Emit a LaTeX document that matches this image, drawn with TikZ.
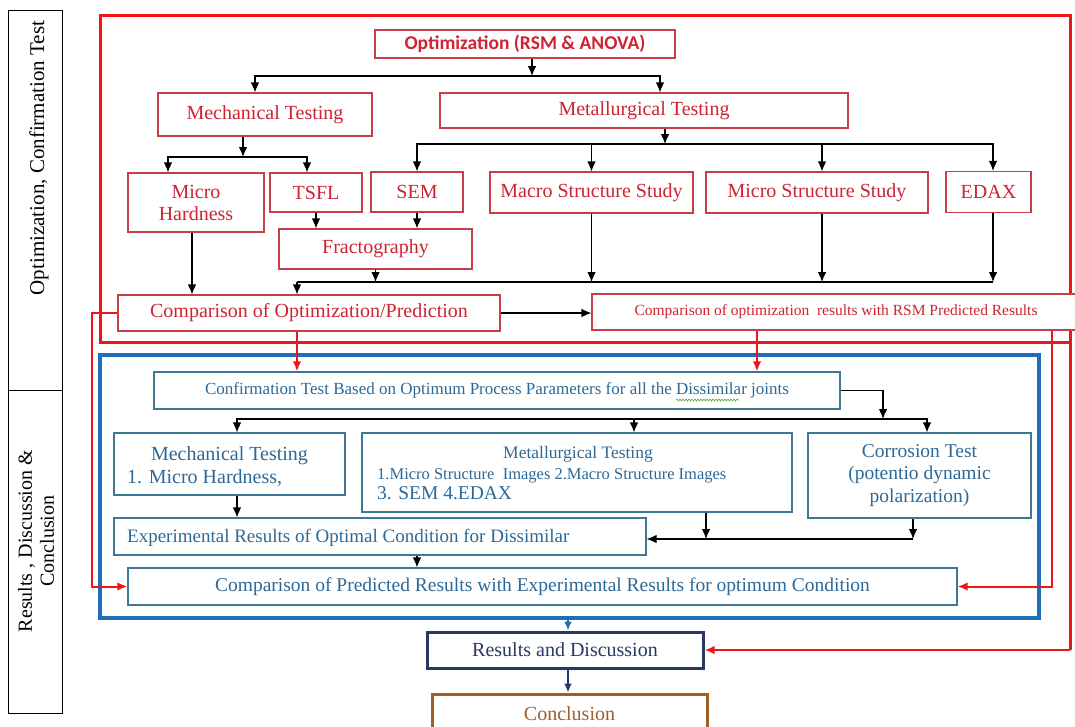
\documentclass[tikz,border=0pt]{standalone}
\usepackage{fontspec}
\setmainfont{Liberation Serif}
\newfontfamily\calibrifont{Carlito}
\usetikzlibrary{arrows.meta,calc,decorations.pathmorphing}

\definecolor{txtred}{RGB}{205,35,50}
\definecolor{boxred}{RGB}{200,60,70}
\definecolor{frred}{RGB}{240,20,25}
\definecolor{txtblue}{RGB}{45,105,150}
\definecolor{boxblue}{RGB}{60,120,150}
\definecolor{frblue}{RGB}{30,110,185}
\definecolor{navy}{RGB}{40,55,100}
\definecolor{brownc}{RGB}{160,95,40}
\definecolor{wavegreen}{RGB}{90,170,60}

\tikzset{
  rbox/.style={draw=boxred, line width=1.1pt, fill=white, text=txtred, inner sep=0pt,
    align=center, font=\fontsize{20}{22}\selectfont},
  bbox/.style={draw=boxblue, line width=1.1pt, fill=white, text=txtblue, inner sep=0pt,
    align=center, font=\fontsize{19.5}{22.5}\selectfont},
  btext/.style={text=txtblue, inner sep=0pt},
  stagelabel/.style={rotate=90, inner sep=0pt},
  arr/.style={line width=1.1pt, -{Latex[length=10pt,width=8.5pt]}},
  busline/.style={line width=1.1pt},
  rarr/.style={draw=frred, line width=2pt, -{Latex[length=10pt,width=8.5pt]}},
  rframe/.style={draw=frred, line width=3pt, line join=miter},
  bframe/.style={draw=frblue, line width=3.5pt},
  barr/.style={draw=frblue, line width=2pt, -{Latex[length=9pt,width=8pt]}},
  narr/.style={draw=navy, line width=2pt, -{Latex[length=9pt,width=8pt]}},
  spellwave/.style={draw=wavegreen, line width=0.6pt, decorate,
    decoration={snake, amplitude=1pt, segment length=3pt}},
}

\begin{document}
\begin{tikzpicture}[x=1pt,y=-1pt]
\useasboundingbox (0,0) rectangle (1075,726);
\fill[white] (0,0) rectangle (1075,726);

% stage column
\draw[line width=1pt] (8,10) rectangle (62,713);
\draw[line width=1pt] (8,390) -- (62,390);
\node[stagelabel, font=\fontsize{21}{23}\selectfont] (stage1) at (39,158) {Optimization, Confirmation Test};
\node[stagelabel, align=center, font=\fontsize{20}{22}\selectfont] (stage2) at (36,541) {Results , Discussion \&\\Conclusion};

% phase frames
\coordinate (fr) at (1070,650);
\draw[rframe] (1070,342) -- (100,342) -- (100,15) -- (1070,15) -- (fr);
\draw[bframe] (100,355) rectangle (1039,618);

% optimization phase
\node[rbox, font=\calibrifont\bfseries\fontsize{19.5}{22}\selectfont, minimum width=300pt, minimum height=28pt] (opt) at (525,44) {Optimization (RSM \& ANOVA)};
\node[rbox, minimum width=214pt, minimum height=43pt] (mech) at (265,114.5) {Mechanical Testing};
\node[rbox, minimum width=408pt, minimum height=35pt] (met) at (644,110.5) {Metallurgical Testing};
\node[rbox, minimum width=136pt, minimum height=59pt] (mh) at (196,202.5) {Micro\\Hardness};
\node[rbox, minimum width=92pt, minimum height=39pt] (tsfl) at (316,192.5) {TSFL};
\node[rbox, minimum width=92pt, minimum height=40pt] (sem) at (417,192) {SEM};
\node[rbox, minimum width=203pt, minimum height=41pt] (macro) at (591.5,192.5) {Macro Structure Study};
\node[rbox, minimum width=222pt, minimum height=41pt] (micro) at (817,192.5) {Micro Structure Study};
\node[rbox, minimum width=85pt, minimum height=41pt] (edax) at (988.5,192) {EDAX};
\node[rbox, minimum width=193pt, minimum height=40pt] (frac) at (375.5,249) {Fractography};
\node[rbox, minimum width=382pt, minimum height=36pt] (cmp1) at (309,313) {Comparison of Optimization/Prediction};
\node[rbox, font=\fontsize{15.5}{18}\selectfont, minimum width=488pt, minimum height=36pt] (cmp2) at (836,312) {Comparison of optimization\ \ results with RSM Predicted Results};

% confirmation phase
\node[bbox, font=\fontsize{17}{20}\selectfont, minimum width=686pt, minimum height=37pt] (conf) at (497,390.5)
  {Confirmation Test Based on Optimum Process Parameters for all the Dissimilar joints};
\draw[spellwave] (676,400) -- (739,400);
\node[bbox, minimum width=231pt, minimum height=62pt] (mech2) at (229.5,464) {};
\node[btext, anchor=base, font=\fontsize{20}{22}\selectfont] (mech2a) at (229.5,460) {Mechanical Testing};
\node[btext, anchor=base west, font=\fontsize{20}{22}\selectfont] (mech2b) at (127,483) {1. Micro Hardness,};
\node[bbox, minimum width=430pt, minimum height=79pt] (met2) at (577,472.5) {};
\node[btext, anchor=base, font=\fontsize{17.5}{20}\selectfont] (met2a) at (578,458) {Metallurgical Testing};
\node[btext, anchor=base west, font=\fontsize{16.5}{20}\selectfont] (met2b) at (377,479) {1.Micro Structure\ \ Images 2.Macro Structure Images};
\node[btext, anchor=base west, font=\fontsize{19.5}{22}\selectfont] (met2c) at (377,499) {3. SEM 4.EDAX};
\node[bbox, minimum width=223pt, minimum height=85pt] (corr) at (919.5,475.5) {Corrosion Test\\(potentio dynamic\\polarization)};
\node[bbox, minimum width=532pt, minimum height=37pt] (exp) at (380,536.5) {};
\node[btext, anchor=base west, font=\fontsize{19}{22}\selectfont] (expt) at (127,542) {Experimental Results of Optimal Condition for Dissimilar};
\node[bbox, minimum width=829pt, minimum height=37pt] (cmp3) at (542.5,586.5) {Comparison of Predicted Results with Experimental Results for optimum Condition};

% results and conclusion
\node[draw=navy, line width=3pt, fill=white, text=navy, inner sep=0pt, font=\fontsize{20}{22}\selectfont,
  minimum width=276pt, minimum height=36pt] (res) at (565,650) {Results and Discussion};
\node[draw=brownc, line width=3pt, fill=white, text=brownc, inner sep=0pt, font=\fontsize{20}{22}\selectfont,
  minimum width=275pt, minimum height=40pt] (conc) at (569.5,714) {Conclusion};

% optimization to testing branches
\coordinate (j1) at (532,76);
\draw[arr] ([xshift=7pt]opt.south) -- (j1);
\draw[arr] (j1) -| ([xshift=-10pt]mech.north);
\draw[arr] (j1) -| ([xshift=16pt]met.north);

% mechanical branches
\coordinate (j2) at (243,157);
\draw[arr] ([xshift=-22pt]mech.south) -- (j2);
\draw[arr] (j2) -| ([xshift=-28pt]mh.north);
\draw[arr] (j2) -| ([xshift=-9pt]tsfl.north);

% metallurgical branches
\coordinate (j3) at (665,144);
\draw[arr] ([xshift=21pt]met.south) -- (j3);
\draw[arr] (j3) -| (sem.north);
\draw[arr] (j3) -| ([xshift=4.5pt]edax.north);
\draw[arr] (macro.north |- j3) -- (macro.north);
\draw[arr] ([xshift=5pt]micro.north |- j3) -- ([xshift=5pt]micro.north);

% fractography inputs
\draw[arr] (tsfl.south) -- (tsfl.south |- frac.north);
\draw[arr] (sem.south) -- (sem.south |- frac.north);

% collecting line into the comparison
\coordinate (j4) at (297,282);
\draw[busline] (j4) -- ([xshift=4.5pt]edax.south |- j4);
\draw[arr] (frac.south) -- (frac.south |- j4);
\draw[arr] (macro.south) -- (macro.south |- j4);
\draw[arr] ([xshift=5pt]micro.south) -- ([xshift=5pt]micro.south |- j4);
\draw[arr] ([xshift=4.5pt]edax.south) -- ([xshift=4.5pt]edax.south |- j4);
\draw[arr] (j4) -- (j4 |- cmp1.north);
\draw[arr] ([xshift=-4pt]mh.south) -- ([xshift=-4pt]mh.south |- cmp1.north);
\draw[arr] (cmp1.east) -- (cmp1.east -| cmp2.west);

% red feeds into the confirmation phase
\draw[rarr] (cmp1.south -| j4) -- (j4 |- conf.north);
\draw[rarr] ([xshift=-79pt]cmp2.south) -- ([xshift=-79pt]cmp2.south |- conf.north);
\draw[rarr] ([xshift=216pt]cmp2.south) |- (cmp3.east);
\coordinate (l1) at (92,313);
\draw[rarr] (cmp1.west) -- (l1) |- (cmp3.west);
\draw[rarr, line width=2.5pt] (fr) -- (res.east);

% confirmation branches
\coordinate (k1) at (883,419);
\draw[arr] (conf.east) -| (k1);
\draw[arr] (k1) -| ([xshift=7.5pt]mech2.north);
\draw[arr] (k1) -| ([xshift=7.5pt]corr.north);
\draw[arr] ([xshift=57pt]met2.north |- k1) -- ([xshift=57pt]met2.north);
\draw[arr] ([xshift=7.5pt]mech2.south) -- ([xshift=7.5pt]mech2.south |- exp.north);
\coordinate (k2) at (913,539);
\draw[arr] ([xshift=-6.5pt]corr.south) -- (k2);
\draw[arr] (k2) -- (exp.east |- k2);
\draw[arr] ([xshift=129pt]met2.south) -- ([xshift=129pt]met2.south |- k2);
\draw[arr] ([xshift=37pt]exp.south) -- ([xshift=37pt]exp.south |- cmp3.north);

% results and conclusion
\coordinate (k3) at (568,618);
\draw[barr] (k3) -- (k3 |- res.north);
\draw[narr] ([xshift=3pt]res.south) -- ([xshift=3pt]res.south |- conc.north);
\end{tikzpicture}
\end{document}
